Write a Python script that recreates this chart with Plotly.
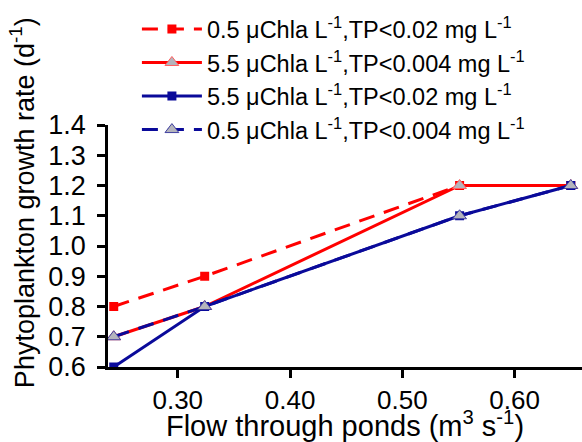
import plotly.graph_objects as go

flow = [0.243, 0.324, 0.551, 0.65]
s1 = [0.8, 0.9, 1.2, 1.2]   # 0.5 Chla, TP<0.02
s2 = [0.7, 0.8, 1.2, 1.2]   # 5.5 Chla, TP<0.004
s3 = [0.6, 0.8, 1.1, 1.2]   # 5.5 Chla, TP<0.02
s4 = [0.7, 0.8, 1.1, 1.2]   # 0.5 Chla, TP<0.004
names = [
    "0.5 μChla L<sup>-1</sup>,TP<0.02 mg L<sup>-1</sup>",
    "5.5 μChla L<sup>-1</sup>,TP<0.004 mg L<sup>-1</sup>",
    "5.5 μChla L<sup>-1</sup>,TP<0.02 mg L<sup>-1</sup>",
    "0.5 μChla L<sup>-1</sup>,TP<0.004 mg L<sup>-1</sup>",
]
x_ticks = [0.30, 0.40, 0.50, 0.60]
y_ticks = [0.6, 0.7, 0.8, 0.9, 1.0, 1.1, 1.2, 1.3, 1.4]
x_title = "Flow through ponds (m<sup>3</sup> s<sup>-1</sup>)"
y_title = "Phytoplankton growth rate (d<sup>-1</sup>)"

RED = "#ff0000"
BLUE = "#0a0a9a"
GRAY = "#b4b4bc"
dash = "16px,10px"

fig = go.Figure()
fig.add_trace(go.Scatter(x=flow, y=s1, name=names[0], mode="lines+markers",
    line=dict(color=RED, width=3, dash=dash),
    marker=dict(symbol="square", size=9, color=RED)))
fig.add_trace(go.Scatter(x=flow, y=s2, name=names[1], mode="lines+markers",
    line=dict(color=RED, width=3),
    marker=dict(symbol="triangle-up", size=12, color=GRAY, line=dict(color="#ff6060", width=1))))
fig.add_trace(go.Scatter(x=flow, y=s3, name=names[2], mode="lines+markers",
    line=dict(color=BLUE, width=3),
    marker=dict(symbol="square", size=9, color=BLUE)))
fig.add_trace(go.Scatter(x=flow, y=s4, name=names[3], mode="lines+markers",
    line=dict(color=BLUE, width=3, dash=dash),
    marker=dict(symbol="triangle-up", size=12, color=GRAY, line=dict(color="#4040a0", width=1))))

font = "Liberation Sans, Arial, sans-serif"
fig.update_layout(
    width=582, height=442,
    margin=dict(l=108, r=0, t=125, b=75, autoexpand=False),
    paper_bgcolor="white", plot_bgcolor="white",
    font=dict(family=font, color="black", size=24),
    showlegend=True,
    legend=dict(x=0.061, y=1.487,
                xanchor="left", yanchor="top", font=dict(size=23.5),
                bgcolor="rgba(0,0,0,0)", tracegroupgap=0, itemwidth=60),
    xaxis=dict(range=[0.2379, 0.66], tickvals=x_ticks, tickformat=".2f",
               showline=True, linecolor="black", linewidth=2.5, ticks="outside",
               ticklen=8, tickwidth=2.5, tickcolor="black", showgrid=False, zeroline=False,
               tickfont=dict(size=26), automargin=False,
               title=dict(text=x_title, font=dict(size=29), standoff=0)),
    yaxis=dict(range=[0.6, 1.4], tickvals=y_ticks, tickformat=".1f",
               showline=True, linecolor="black", linewidth=2.5, ticks="outside",
               ticklen=8, tickwidth=2.5, tickcolor="black", showgrid=False, zeroline=False,
               tickfont=dict(size=27), automargin=False, ticklabelstandoff=6),
    annotations=[dict(text=y_title, textangle=-90, xref="paper", yref="paper",
                      x=-0.181, y=0.678, xanchor="center", yanchor="middle",
                      showarrow=False, font=dict(size=27))],
)
fig.write_html("out.html", config={"displayModeBar": False},
               post_script="document.body.style.margin='0';document.body.style.overflow='hidden';")
